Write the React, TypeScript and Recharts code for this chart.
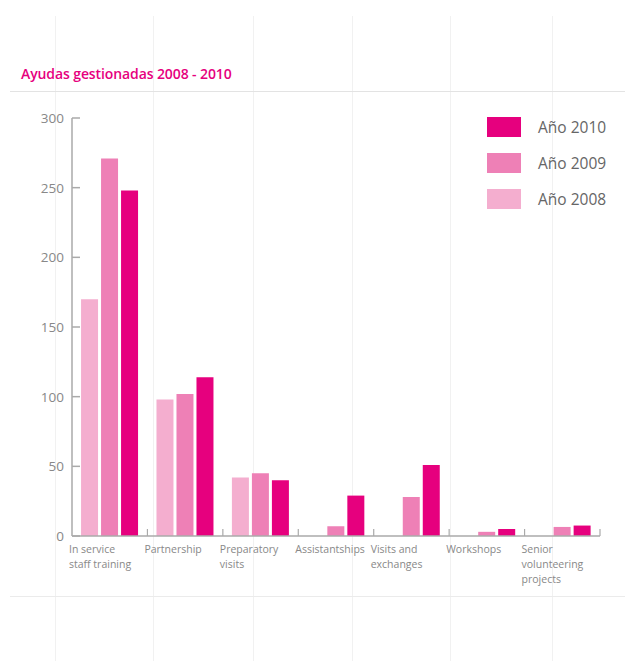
import React from 'react';
import { BarChart, Bar, XAxis, YAxis, Legend } from 'recharts';

const categories = [
  ['In service', 'staff training'],
  ['Partnership'],
  ['Preparatory', 'visits'],
  ['Assistantships'],
  ['Visits and', 'exchanges'],
  ['Workshops'],
  ['Senior', 'volunteering', 'projects'],
];
const ano2008 = [170, 98, 42, 0, 0, 0, 0];
const ano2009 = [271, 102, 45, 7, 28, 3, 6.5];
const ano2010 = [248, 114, 40, 29, 51, 5, 7.5];
const yTicks = [0, 50, 100, 150, 200, 250, 300];

const data = categories.map((c, i) => ({
  name: c.join(' '),
  lines: c,
  a2008: ano2008[i],
  a2009: ano2009[i],
  a2010: ano2010[i],
}));

const W = 625;
const H = 661;
const AXIS_X = 72;
const RIGHT = 25;
const TOP = 118;
const BASE_Y = 536;
const X_AXIS_H = 60;
const BAND = (W - AXIS_X - RIGHT) / categories.length;

const C2010 = '#e6007e';
const C2009 = '#ee80b6';
const C2008 = '#f4aecf';
const FONT = '"Open Sans", "DejaVu Sans", sans-serif';

const YTick = ({ x, y, payload }: any) => (
  <g>
    <line x1={AXIS_X} x2={AXIS_X + 8} y1={y} y2={y} stroke="#aaa" strokeWidth={1.5} />
    <text x={64} y={y + 5} textAnchor="end" fontSize={13.5} fill="#888" fontFamily={FONT}>
      {payload.value}
    </text>
  </g>
);

const XTick = ({ x, y, payload, index }: any) => {
  const lines: string[] = data[index] ? data[index].lines : [payload.value];
  return (
    <g>
      <line x1={x + BAND / 2} x2={x + BAND / 2} y1={y} y2={y - 7} stroke="#aaa" strokeWidth={1.2} />
      <text x={x - BAND / 2 - 3} y={y + 17} textAnchor="start" fontSize={10.5} fill="#888" fontFamily={FONT}>
        {lines.map((l, i) => (
          <tspan key={i} x={x - BAND / 2 - 3} dy={i === 0 ? 0 : 15}>
            {l}
          </tspan>
        ))}
      </text>
    </g>
  );
};

const LegendContent = () => {
  const items = [
    { label: 'Año 2010', color: C2010 },
    { label: 'Año 2009', color: C2009 },
    { label: 'Año 2008', color: C2008 },
  ];
  return (
    <div style={{ fontFamily: FONT }}>
      {items.map((it) => (
        <div key={it.label} style={{ display: 'flex', alignItems: 'center', height: 20, marginBottom: 16 }}>
          <span style={{ display: 'inline-block', width: 34, height: 20, background: it.color }} />
          <span style={{ marginLeft: 17, fontSize: 15.5, color: '#666', whiteSpace: 'nowrap' }}>{it.label}</span>
        </div>
      ))}
    </div>
  );
};

const vLines = [55, 153, 253, 352, 450, 552];

export default function App() {
  return (
    <div style={{ position: 'absolute', left: 0, top: 0, width: W, height: H, background: '#fff', overflow: 'hidden' }}>
      {vLines.map((x) => (
        <div key={x} style={{ position: 'absolute', left: x, top: 16, width: 1, height: H - 16, background: '#f1f1f1' }} />
      ))}
      <div style={{ position: 'absolute', left: 10, top: 91, width: W - 10, height: 1, background: '#e3e3e3' }} />
      <div style={{ position: 'absolute', left: 10, top: 596, width: W - 10, height: 1, background: '#ebebeb' }} />
      <div
        style={{
          position: 'absolute',
          left: 21,
          top: 64,
          fontFamily: FONT,
          fontSize: 14,
          fontWeight: 600,
          color: C2010,
          letterSpacing: -0.1,
        }}
      >
        Ayudas gestionadas 2008 - 2010
      </div>
      <div style={{ position: 'absolute', left: 0, top: 0 }}>
        <BarChart
          width={W}
          height={H}
          data={data}
          margin={{ top: TOP, right: RIGHT, left: 0, bottom: H - BASE_Y - X_AXIS_H }}
          barCategoryGap="12%"
          barGap={3}
        >
          <XAxis
            dataKey="name"
            height={X_AXIS_H}
            axisLine={{ stroke: '#aaa', strokeWidth: 1.5 }}
            tickLine={false}
            tickSize={0}
            tickMargin={0}
            interval={0}
            tick={<XTick />}
          />
          <YAxis
            width={AXIS_X}
            domain={[0, 300]}
            ticks={yTicks}
            axisLine={{ stroke: '#aaa', strokeWidth: 1.5 }}
            tickLine={false}
            tick={<YTick />}
          />
          <Legend
            layout="vertical"
            align="center"
            verticalAlign="middle"
            content={<LegendContent />}
            wrapperStyle={{ position: 'absolute', top: 117, left: 487, width: 135 }}
          />
          <Bar dataKey="a2008" fill={C2008} isAnimationActive={false} />
          <Bar dataKey="a2009" fill={C2009} isAnimationActive={false} />
          <Bar dataKey="a2010" fill={C2010} isAnimationActive={false} />
        </BarChart>
      </div>
    </div>
  );
}
